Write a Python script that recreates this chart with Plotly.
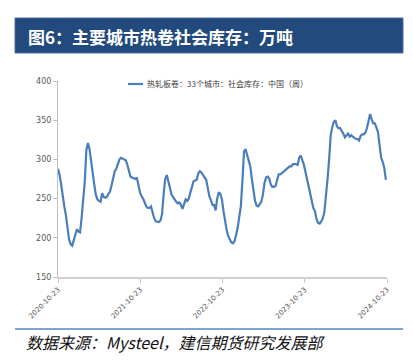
import pandas as pd
import plotly.graph_objects as go

start_date = "2020-10-23"
n_weeks = 209
values = [
    288, 280, 268, 252, 240, 229, 215, 198, 192, 190,
    197, 204, 211, 208, 207, 226, 248, 272, 312, 321,
    313, 296, 282, 268, 255, 249, 247, 246, 257, 252,
    251, 252, 256, 259, 267, 278, 285, 288, 293, 300,
    302, 301, 301, 299, 293, 284, 278, 277, 276, 275,
    277, 265, 258, 253, 250, 245, 240, 238, 238, 240,
    232, 225, 221, 220, 220, 222, 230, 255, 275, 280,
    273, 264, 255, 251, 249, 246, 244, 245, 242, 237,
    243, 249, 247, 250, 258, 266, 272, 273, 274, 282,
    285, 283, 280, 277, 274, 264, 253, 248, 242, 242,
    235, 250, 258, 256, 249, 234, 221, 210, 202, 197,
    194, 193, 196, 204, 213, 227, 240, 273, 310, 313,
    306, 301, 291, 275, 259, 247, 241, 240, 243, 246,
    255, 270, 277, 278, 276, 268, 265, 265, 266, 274,
    281, 281, 282, 284, 286, 288, 290, 291, 291, 294,
    294, 294, 293, 302, 305, 300, 293, 284, 274, 265,
    256, 245, 238, 234, 224, 219, 218, 221, 225, 233,
    250, 275, 300, 331, 341, 348, 350, 342, 340, 340,
    336, 333, 328, 331, 333, 329, 331, 329, 327, 326,
    326, 324, 330, 332, 332, 334, 340, 349, 358, 351,
    346, 346, 341, 335, 318, 302, 297, 289, 274,
]
tick_dates = ["2020-10-23", "2021-10-23", "2022-10-23", "2023-10-23", "2024-10-23"]
y_ticks = [150, 200, 250, 300, 350, 400]
title_text = "图6：主要城市热卷社会库存：万吨"
legend_text = "热轧板卷：33个城市：社会库存：中国（周）"
source_text = "数据来源：Mysteel，建信期货研究发展部"

dates = pd.date_range(start=start_date, periods=n_weeks, freq="7D")

W, H = 413, 364
L, R, T, B = 58, 26, 81, 87
pw, ph = W - L - R, H - T - B

def px_x(p):
    return (p - L) / pw

def px_y(p):
    return (H - B - p) / ph

fig = go.Figure()
fig.add_trace(go.Scatter(
    x=dates, y=values, mode="lines",
    line=dict(color="#4a7ebb", width=2.2),
    name=legend_text, showlegend=False, hoverinfo="skip",
))

CJK = "Noto Sans CJK SC"

shapes = [
    dict(type="rect", xref="paper", yref="paper",
         x0=px_x(15), x1=px_x(403), y0=px_y(53), y1=px_y(18),
         fillcolor="#224a7c", line=dict(color="#4a6f9f", width=1), layer="below"),
    dict(type="line", xref="paper", yref="paper",
         x0=px_x(15), x1=px_x(403), y0=px_y(329), y1=px_y(329),
         line=dict(color="#5b84b8", width=1.5)),
    dict(type="line", xref="paper", yref="paper",
         x0=px_x(128), x1=px_x(143), y0=px_y(84), y1=px_y(84),
         line=dict(color="#4a7ebb", width=2.2)),
]

annotations = [
    dict(text="<b>" + title_text + "</b>", xref="paper", yref="paper",
         x=px_x(26), y=px_y(36), xanchor="left", yanchor="middle",
         showarrow=False, font=dict(family=CJK, size=17, color="white")),
    dict(text=legend_text, xref="paper", yref="paper",
         x=px_x(145), y=px_y(84), xanchor="left", yanchor="middle",
         showarrow=False, font=dict(family=CJK, size=8, color="#404040")),
    dict(text="<i>" + source_text + "</i>", xref="paper", yref="paper",
         x=px_x(24), y=px_y(342), xanchor="left", yanchor="middle",
         showarrow=False, font=dict(family=CJK, size=16, color="#111111")),
]

fig.update_layout(
    width=W, height=H,
    margin=dict(l=L, r=R, t=T, b=B, pad=0),
    paper_bgcolor="white", plot_bgcolor="white",
    shapes=shapes, annotations=annotations,
    showlegend=False,
    xaxis=dict(
        type="date", range=[tick_dates[0], tick_dates[-1]],
        tickvals=tick_dates, ticktext=tick_dates, tickangle=-45,
        showgrid=False, zeroline=False,
        showline=True, linecolor="#d0d0d0", linewidth=1.5,
        ticks="outside", ticklen=4, tickcolor="#c8c8c8",
        tickfont=dict(family="DejaVu Sans", size=7, color="#595959"),
    ),
    yaxis=dict(
        range=[150, 400], tickvals=y_ticks,
        showgrid=False, zeroline=False,
        showline=True, linecolor="#bfbfbf", linewidth=1,
        ticks="outside", ticklen=4, tickcolor="#bfbfbf",
        tickfont=dict(family="DejaVu Sans", size=8, color="#595959"),
    ),
)

fig.write_html(
    "out.html",
    config={"displayModeBar": False},
    post_script="document.body.style.margin='0';document.body.style.overflow='hidden';",
)
